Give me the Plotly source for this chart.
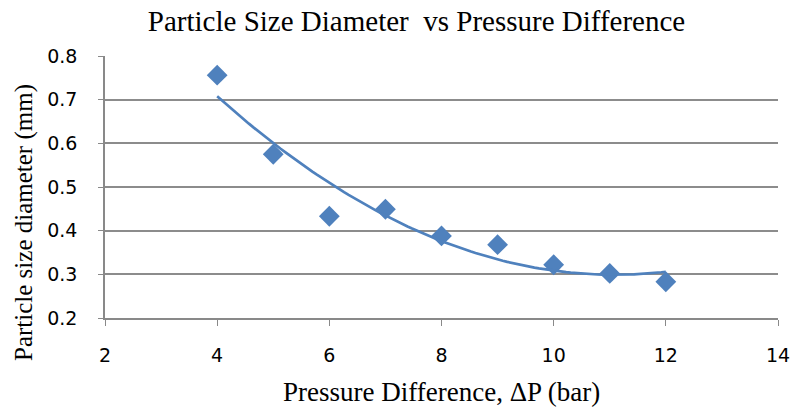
import numpy as np
import plotly.graph_objects as go

pressure = [4, 5, 6, 7, 8, 9, 10, 11, 12]
diameter = [0.756, 0.575, 0.433, 0.449, 0.388, 0.368, 0.322, 0.302, 0.283]

# Excel-style polynomial (order 2) trendline
coef = np.polyfit(pressure, diameter, 2)
xt = np.linspace(min(pressure), max(pressure), 100)
yt = np.polyval(coef, xt)

color = "#4F81BD"
serif = "Liberation Serif"
fig = go.Figure()
fig.add_trace(go.Scatter(x=pressure, y=diameter, mode="markers",
                         marker=dict(symbol="diamond", size=16, color=color),
                         showlegend=False))
fig.add_trace(go.Scatter(x=xt, y=yt, mode="lines",
                         line=dict(color=color, width=2.7), showlegend=False))

fig.update_layout(
    width=794, height=410,
    margin=dict(l=105, r=16, t=56, b=92),
    paper_bgcolor="white", plot_bgcolor="white",
    title=dict(text="Particle Size Diameter  vs Pressure Difference",
               x=0.5246, xanchor="center", y=0.95, yanchor="middle",
               font=dict(family=serif, size=29, color="black")),
    xaxis=dict(range=[2, 14], dtick=2, tick0=2, showgrid=False, automargin=False,
               showline=True, linecolor="#898989", linewidth=1.5,
               ticks="outside", ticklen=6, tickcolor="#898989",
               ticklabelstandoff=13,
               tickfont=dict(family="DejaVu Sans", size=19, color="black"),
               zeroline=False),
    yaxis=dict(range=[0.2, 0.8], dtick=0.1, tick0=0.2, tickformat=".1f", automargin=False,
               showgrid=True, gridcolor="#8c8c8c", gridwidth=1.5,
               showline=True, linecolor="#898989", linewidth=1.5,
               ticks="outside", ticklen=5, tickcolor="#898989",
               ticklabelstandoff=17,
               tickfont=dict(family="DejaVu Sans", size=19, color="black"),
               zeroline=False),
    annotations=[
        dict(text="Pressure Difference, ΔP (bar)", xref="paper", yref="paper",
             x=0.5, y=0, xanchor="center", yanchor="middle", yshift=-74,
             showarrow=False, font=dict(family=serif, size=27, color="black")),
        dict(text="Particle size diameter (mm)", xref="paper", yref="paper",
             x=0, y=0.5, xanchor="center", yanchor="middle", xshift=-81, yshift=-36,
             textangle=-90, showarrow=False,
             font=dict(family=serif, size=25, color="black")),
    ],
)
fig.write_html("out.html", config={"displayModeBar": False},
               post_script="document.body.style.margin='0';")
